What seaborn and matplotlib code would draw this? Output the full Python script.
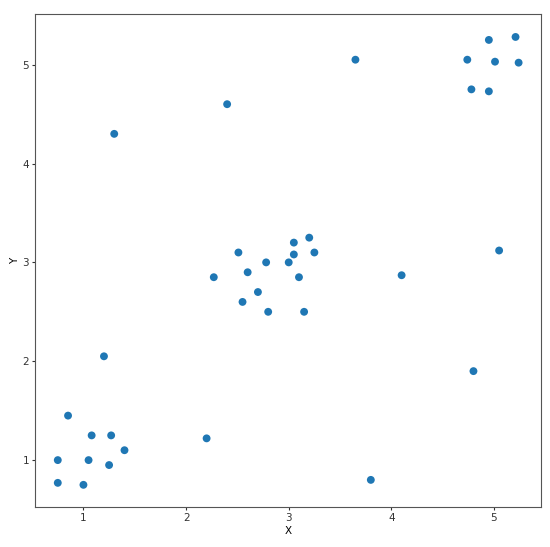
import matplotlib
matplotlib.use("Agg")
import matplotlib.pyplot as plt
import seaborn as sns
import pandas as pd

x_vals = [0.75, 0.75, 1.0, 1.05, 0.85, 1.08, 1.27, 1.25, 1.4, 1.2, 2.2, 1.3, 2.4, 3.65, 3.8, 4.1, 4.8, 5.05,
          2.27, 2.51, 2.60, 2.78, 2.70, 2.55, 2.80, 3.0, 3.05, 3.05, 3.20, 3.25, 3.10, 3.15,
          4.95, 5.21, 4.74, 5.01, 5.24, 4.78, 4.95]
y_vals = [0.77, 1.0, 0.75, 1.0, 1.45, 1.25, 1.25, 0.95, 1.1, 2.05, 1.22, 4.3, 4.6, 5.05, 0.8, 2.87, 1.9, 3.12,
          2.85, 3.10, 2.90, 3.0, 2.70, 2.60, 2.5, 3.0, 3.20, 3.08, 3.25, 3.10, 2.85, 2.5,
          5.25, 5.28, 5.05, 5.03, 5.02, 4.75, 4.73]

df = pd.DataFrame({"X": x_vals, "Y": y_vals})

fig = plt.figure(figsize=(5.5, 5.47), dpi=100)
ax = fig.add_axes([0.064, 0.073, 0.92, 0.901])
sns.scatterplot(data=df, x="X", y="Y", ax=ax, color="#1f77b4", s=32, edgecolor="none")
ax.set_xlim(0.53, 5.46)
ax.set_ylim(0.525, 5.51)
ax.set_xticks([1, 2, 3, 4, 5])
ax.set_yticks([1, 2, 3, 4, 5])
for sp in ax.spines.values():
    sp.set_color("#555555")
ax.tick_params(labelsize=7.5, colors="#333333", length=2.5, pad=2)
ax.set_xlabel("X", fontsize=7.5, labelpad=2)
ax.set_ylabel("Y", fontsize=7.5, labelpad=2)
fig.savefig("out.png", dpi=100)
